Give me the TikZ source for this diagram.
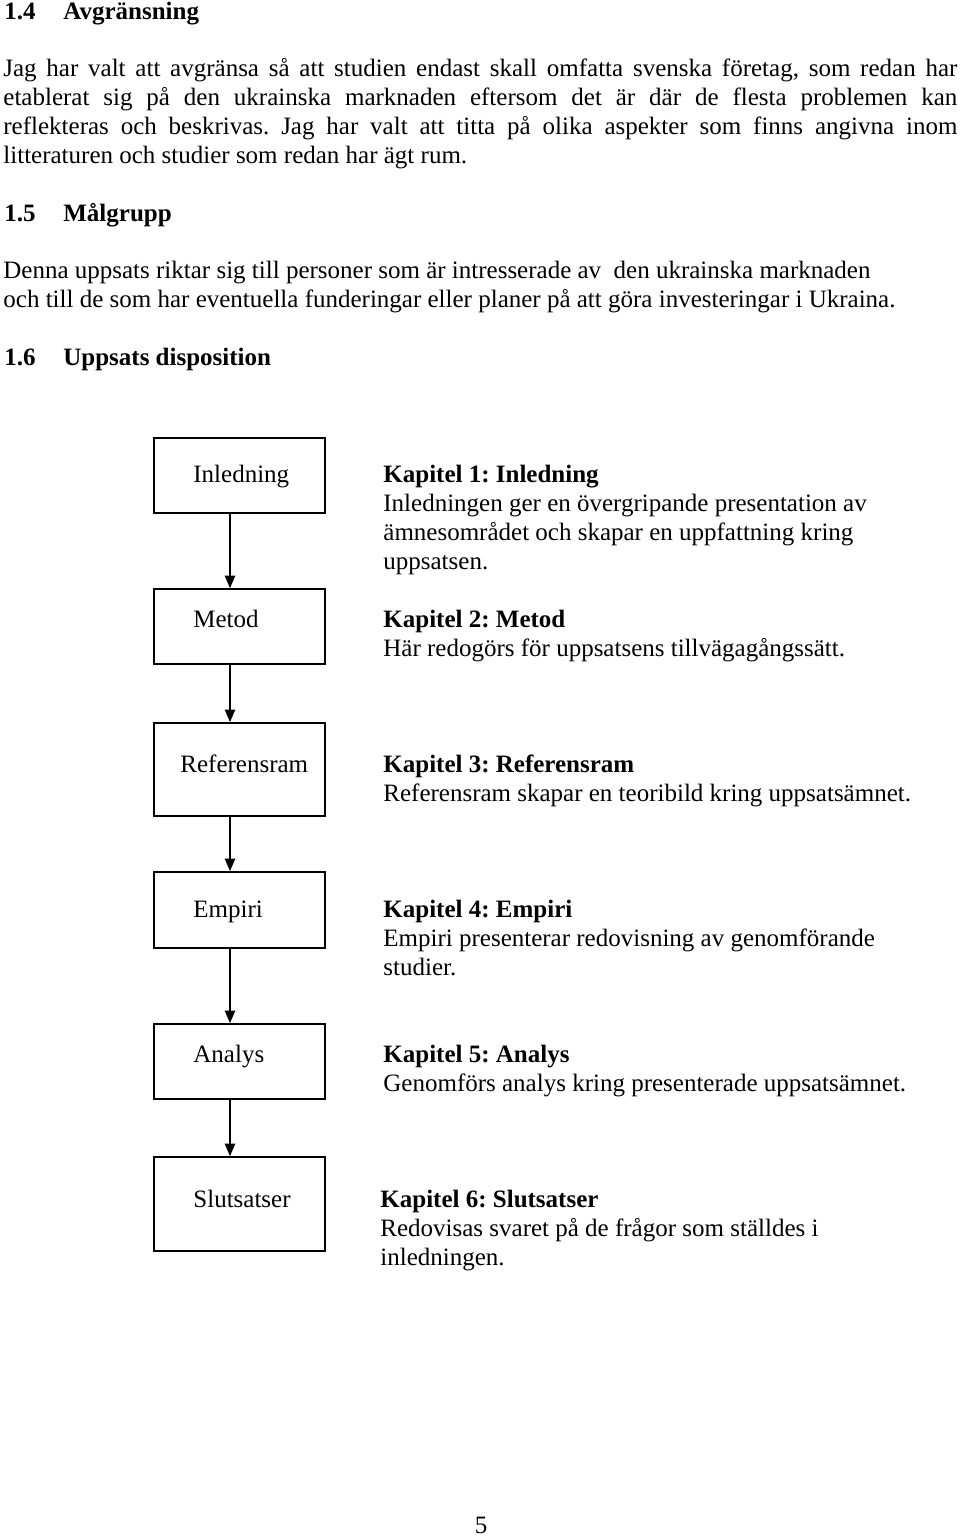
\documentclass[tikz,border=0pt]{standalone}
\usepackage{fontspec}
\setmainfont{Liberation Serif}
\usetikzlibrary{arrows.meta}
\setlength{\parindent}{0pt}
\frenchspacing

\tikzset{
	bodytext/.style={anchor=base west, inner sep=0pt, font=\fontsize{12pt}{13.92pt}\selectfont},
	headtext/.style={bodytext, font=\fontsize{12pt}{13.92pt}\selectfont\bfseries},
	desctext/.style={bodytext, text width=275pt, align=flush left},
	chapbox/.style={draw, line width=0.9pt, minimum width=82.08pt, inner sep=0pt},
	flowarrow/.style={line width=0.7pt, -{Triangle[length=6pt,width=5pt]}},
}

\begin{document}
\begin{tikzpicture}[x=0.48pt, y=-0.48pt]
			\useasboundingbox (0, 0) rectangle (960, 1537);
			
			%Headings
			\node[headtext] (hdAvgr) at (4, 19) {\makebox[28.3pt][l]{1.4}Avgränsning};
			\node[headtext] (hdMal) at (4, 221) {\makebox[28.3pt][l]{1.5}Målgrupp};
			\node[headtext] (hdDisp) at (4, 365) {\makebox[28.3pt][l]{1.6}Uppsats disposition};
			
			%Paragraphs
			\node[bodytext, text width=457.9pt, align=justify] (txtAvgr) at (3, 76)
				{\tolerance=10000 Jag har valt att avgränsa så att studien endast skall omfatta svenska företag, som redan har\linebreak
				etablerat sig på den ukrainska marknaden eftersom det är där de flesta problemen kan\linebreak
				reflekteras och beskrivas. Jag har valt att titta på olika aspekter som finns angivna inom\linebreak
				litteraturen och studier som redan har ägt rum.};
			\node[bodytext, text width=457.9pt, align=flush left] (txtMal) at (3, 278)
				{Denna uppsats riktar sig till personer som är intresserade av~ den ukrainska marknaden\\
				och till de som har eventuella funderingar eller planer på att göra investeringar i Ukraina.};
			
			%Boxes
			\node[chapbox, minimum height=36pt] (boxInl) at (239.5, 475.5) {};
			\node[chapbox, minimum height=36pt] (boxMet) at (239.5, 626.5) {};
			\node[chapbox, minimum height=44.64pt] (boxRef) at (239.5, 769.5) {};
			\node[chapbox, minimum height=36.48pt] (boxEmp) at (239.5, 910) {};
			\node[chapbox, minimum height=36pt] (boxAna) at (239.5, 1061.5) {};
			\node[chapbox, minimum height=45.12pt] (boxSlu) at (239.5, 1204) {};
			
			%Box labels
			\node[bodytext] (lblInl) at (193, 482) {Inledning};
			\node[bodytext] (lblMet) at (193, 627) {Metod};
			\node[bodytext] (lblRef) at (180, 772) {Referensram};
			\node[bodytext] (lblEmp) at (193, 917) {Empiri};
			\node[bodytext] (lblAna) at (193, 1062) {Analys};
			\node[bodytext] (lblSlu) at (193, 1207) {Slutsatser};
			
			%Lines
			\coordinate (spine) at (230, 0);
			\draw[flowarrow] (boxInl.south -| spine) -- (boxMet.north -| spine);
			\draw[flowarrow] (boxMet.south -| spine) -- (boxRef.north -| spine);
			\draw[flowarrow] (boxRef.south -| spine) -- (boxEmp.north -| spine);
			\draw[flowarrow] (boxEmp.south -| spine) -- (boxAna.north -| spine);
			\draw[flowarrow] (boxAna.south -| spine) -- (boxSlu.north -| spine);
			
			%Descriptions
			\node[desctext] (descInl) at (383, 482)
				{\textbf{Kapitel 1: Inledning}\\
				Inledningen ger en övergripande presentation av\\
				ämnesområdet och skapar en uppfattning kring\\
				uppsatsen.};
			\node[desctext] (descMet) at (383, 627)
				{\textbf{Kapitel 2: Metod}\\
				Här redogörs för uppsatsens tillvägagångssätt.};
			\node[desctext] (descRef) at (383, 772)
				{\textbf{Kapitel 3: Referensram}\\
				Referensram skapar en teoribild kring uppsatsämnet.};
			\node[desctext] (descEmp) at (383, 917)
				{\textbf{Kapitel 4: Empiri}\\
				Empiri presenterar redovisning av genomförande\\
				studier.};
			\node[desctext] (descAna) at (383, 1062)
				{\textbf{Kapitel 5: Analys}\\
				Genomförs analys kring presenterade uppsatsämnet.};
			\node[desctext] (descSlu) at (380, 1207)
				{\textbf{Kapitel 6: Slutsatser}\\
				Redovisas svaret på de frågor som ställdes i\\
				inledningen.};
			
			%Page number
			\node[bodytext, anchor=base] (pgNum) at (481, 1533) {5};
\end{tikzpicture}
\end{document}
